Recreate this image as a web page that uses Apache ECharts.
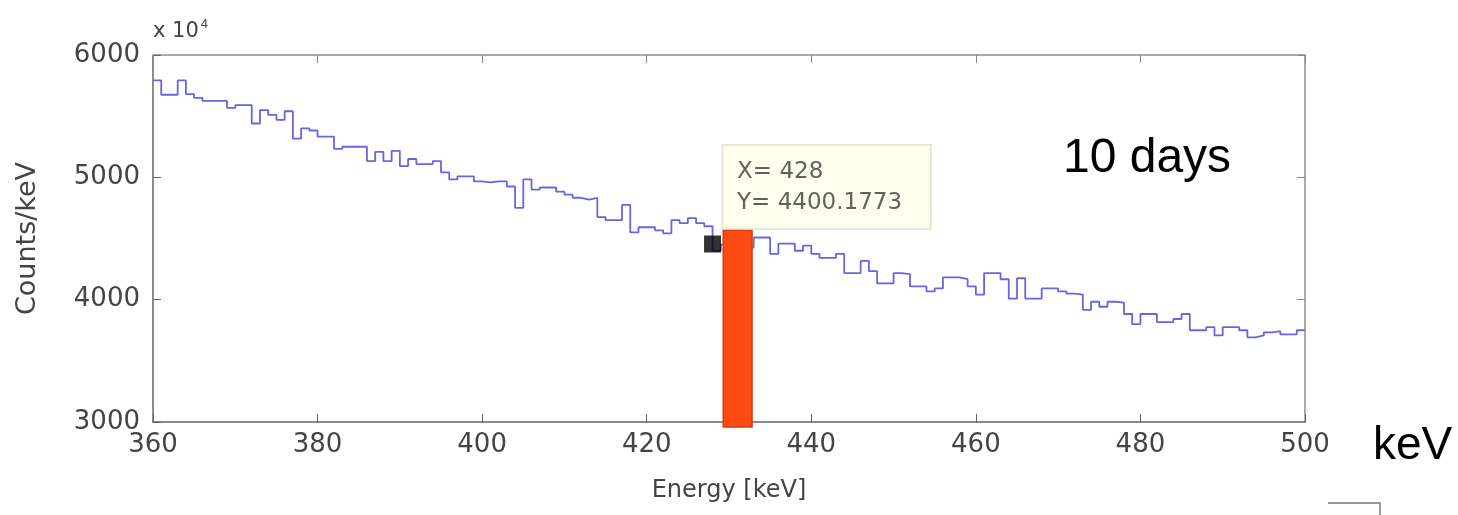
<!DOCTYPE html>
<html>
<head>
    <meta charset="utf-8">
    <title>Counts/keV spectrum</title>
    <script src="https://cdn.jsdelivr.net/npm/echarts@6/dist/echarts.min.js"></script>
    <style>
        html, body { margin: 0; padding: 0; background: #fff; }
        #chart { width: 1458px; height: 515px; }
    </style>
</head>
<body>
    <div id="chart"></div>
    <script>
        // energy bins start at 360 keV, 1 keV wide
        var binStart = 360;
        var counts = [
            5792, 5675, 5675, 5792, 5680, 5650, 5625, 5625, 5625, 5567,
            5590, 5590, 5440, 5550, 5510, 5470, 5540, 5317, 5400, 5383,
            5333, 5333, 5233, 5250, 5250, 5250, 5133, 5208, 5133, 5217,
            5092, 5150, 5108, 5108, 5133, 5040, 4983, 5008, 5008, 4967,
            4958, 4967, 4967, 4925, 4750, 4983, 4900, 4917, 4917, 4883,
            4858, 4833, 4817, 4833, 4675, 4650, 4650, 4775, 4550, 4592,
            4592, 4567, 4542, 4650, 4625, 4667, 4625, 4600, 4400, 4450,
            4450, 4450, 4425, 4508, 4508, 4375, 4458, 4458, 4400, 4442,
            4375, 4342, 4342, 4375, 4217, 4217, 4317, 4233, 4133, 4133,
            4217, 4208, 4108, 4108, 4067, 4092, 4183, 4183, 4167, 4108,
            4042, 4217, 4217, 4167, 4008, 4175, 4008, 4008, 4092, 4092,
            4067, 4050, 4042, 3917, 3983, 3942, 3983, 3975, 3883, 3800,
            3883, 3883, 3817, 3817, 3842, 3883, 3750, 3750, 3775, 3708,
            3775, 3775, 3750, 3692, 3708, 3733, 3742, 3717, 3717, 3750
        ];
        var xTicks = [360, 500, 20];      // min, max, step
        var yTicks = [3000, 6000, 1000];
        // highlighted window: [x from, x to, y bottom, y top]
        var peakBox = [429.3, 432.8, 2960, 4570];
        // data tip
        var tipMarker = [428, 4455];
        var tipText = ['X= 428', 'Y= 4400.1773'];

        var stairs = [];
        for (var i = 0; i < counts.length; i++) {
            stairs.push([binStart + i, counts[i]]);
        }
        stairs.push([binStart + counts.length, counts[counts.length - 1]]);

        var tickFont = { color: '#444', fontFamily: 'DejaVu Sans', fontSize: 26 };

        var myChart = echarts.init(document.getElementById('chart'));
        var option = {
            animation: false,
            grid: { left: 153, right: 153, top: 55, bottom: 93 },
            xAxis: [
                {
                    type: 'value', min: xTicks[0], max: xTicks[1], interval: xTicks[2],
                    name: 'Energy [keV]', nameLocation: 'middle', nameGap: 57,
                    nameTextStyle: { color: '#444', fontFamily: 'DejaVu Sans', fontSize: 24 },
                    axisLine: { lineStyle: { color: '#666', width: 1.5 } },
                    axisTick: { inside: true, length: 8, lineStyle: { color: '#666' } },
                    axisLabel: Object.assign({ margin: 10 }, tickFont),
                    splitLine: { show: false }
                },
                {
                    type: 'value', position: 'top', min: xTicks[0], max: xTicks[1], interval: xTicks[2],
                    axisLine: { lineStyle: { color: '#aaa', width: 2 } },
                    axisTick: { inside: true, length: 8, lineStyle: { color: '#888' } },
                    axisLabel: { show: false },
                    splitLine: { show: false }
                }
            ],
            yAxis: [
                {
                    type: 'value', min: yTicks[0], max: yTicks[1], interval: yTicks[2],
                    name: 'Counts/keV', nameLocation: 'middle', nameGap: 112,
                    nameTextStyle: { color: '#444', fontFamily: 'DejaVu Sans', fontSize: 27 },
                    axisLine: { show: true, lineStyle: { color: '#666', width: 1.5 } },
                    axisTick: { show: true, inside: true, length: 8, lineStyle: { color: '#666' } },
                    axisLabel: Object.assign({ margin: 13, formatter: function (v) { return String(v); } }, tickFont),
                    splitLine: { show: false }
                },
                {
                    type: 'value', position: 'right', min: yTicks[0], max: yTicks[1], interval: yTicks[2],
                    axisLine: { show: true, lineStyle: { color: '#aaa', width: 2 } },
                    axisTick: { show: true, inside: true, length: 8, lineStyle: { color: '#888' } },
                    axisLabel: { show: false },
                    splitLine: { show: false }
                }
            ],
            series: [
                {
                    name: 'spectrum',
                    type: 'line',
                    step: 'end',
                    data: stairs,
                    symbol: 'none',
                    lineStyle: { color: '#6666e4', width: 1.8 },
                    z: 2
                },
                {
                    name: 'peak',
                    type: 'custom',
                    clip: false,
                    data: [peakBox],
                    renderItem: function (params, api) {
                        var p1 = api.coord([api.value(0), api.value(3)]);
                        var p2 = api.coord([api.value(1), api.value(2)]);
                        return {
                            type: 'rect',
                            shape: { x: p1[0], y: p1[1], width: p2[0] - p1[0], height: p2[1] - p1[1] },
                            style: { fill: '#ff4a12', stroke: '#c8401a', lineWidth: 1.5 }
                        };
                    },
                    z: 3
                },
                {
                    name: 'tip',
                    type: 'scatter',
                    data: [tipMarker],
                    symbol: 'rect',
                    symbolSize: 17,
                    itemStyle: { color: '#000' },
                    label: {
                        show: true,
                        position: [19, -90],
                        formatter: tipText.join('\n'),
                        color: '#3a3a3a',
                        fontFamily: 'DejaVu Sans',
                        fontSize: 23,
                        lineHeight: 31,
                        align: 'left',
                        verticalAlign: 'top',
                        backgroundColor: '#fefee8',
                        borderColor: '#dcdcc8',
                        borderWidth: 1.5,
                        padding: [11, 28, 10, 14]
                    },
                    z: 4
                }
            ],
            graphic: [
                {
                    type: 'text', left: 153, top: 18, z: 10,
                    style: {
                        text: 'x 10{s|4}',
                        fill: '#444',
                        font: '21px "DejaVu Sans"',
                        rich: { s: { fontSize: 13, verticalAlign: 'top', padding: [0, 0, 14, 2], fill: '#444' } }
                    }
                },
                {
                    type: 'text', left: 1063, top: 135, z: 10,
                    style: { text: '10 days', fill: '#000', font: '48px "Liberation Sans"' }
                },
                {
                    type: 'text', left: 1373, top: 423, z: 10,
                    style: { text: 'keV', fill: '#000', font: '46px "Liberation Sans"' }
                },
                {
                    type: 'polyline', z: 10,
                    shape: { points: [[1328, 503], [1380, 503], [1380, 515]] },
                    style: { stroke: '#999', lineWidth: 2, fill: null }
                }
            ]
        };
        myChart.setOption(option);
    </script>
</body>
</html>
